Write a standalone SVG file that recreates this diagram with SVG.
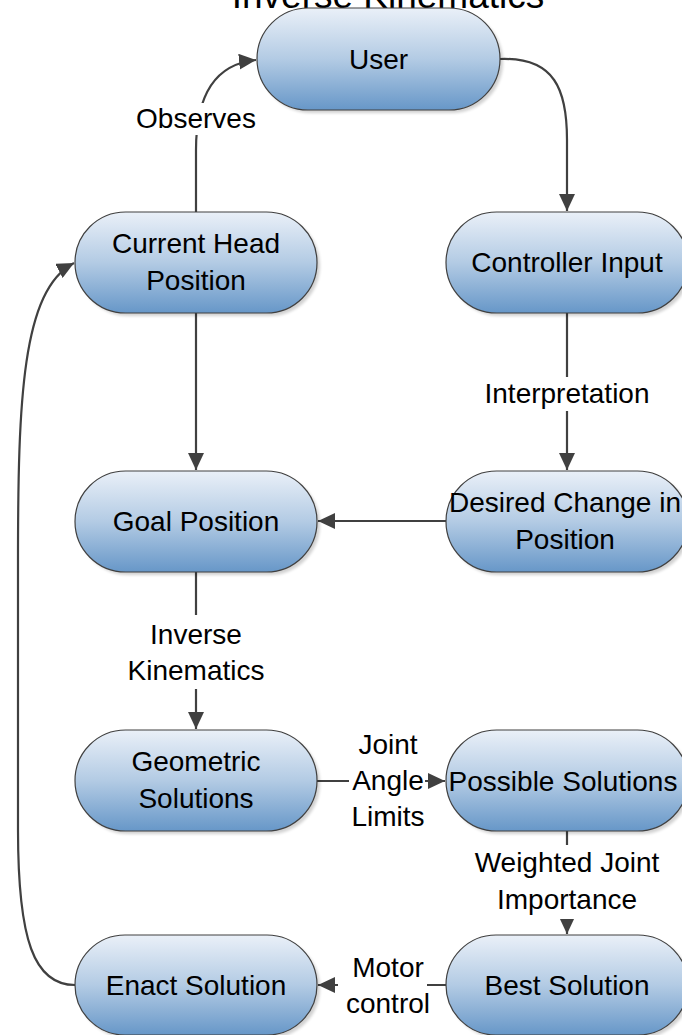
<svg xmlns="http://www.w3.org/2000/svg" width="682" height="1035" viewBox="0 0 682 1035">
<defs>
<linearGradient id="fill" x1="0" y1="0" x2="0" y2="1">
<stop offset="0" stop-color="#eaf0f8"/>
<stop offset="0.5" stop-color="#b3cbe4"/>
<stop offset="1" stop-color="#6797c8"/>
</linearGradient>
<marker id="arr" markerUnits="userSpaceOnUse" markerWidth="18" markerHeight="16" refX="17" refY="8" orient="auto">
<path d="M0,0 L17,8 L0,16 Z" fill="#404040"/>
</marker>
<filter id="sh" x="-10%" y="-10%" width="130%" height="140%">
<feGaussianBlur stdDeviation="1.5"/>
</filter>
</defs>
<style>
.shadow{fill:#000;opacity:0.18;filter:url(#sh)}
.node{fill:url(#fill);stroke:#404040;stroke-width:1.2}
.t{font-family:"Liberation Sans",Arial,sans-serif;font-size:28px;fill:#000;text-anchor:middle}
.title{font-family:"Liberation Sans",Arial,sans-serif;font-size:37px;fill:#000;text-anchor:middle}
.c{fill:none;stroke:#404040;stroke-width:2.2}
.bg{fill:#fff}
</style>
<rect width="682" height="1035" fill="#fff"/>
<text class="title" x="388" y="8">Inverse Kinematics</text>

<g id="connectors">
<path class="c" d="M196,212 L196,150 C196,95 215,64 256,60" marker-end="url(#arr)"/>
<path class="c" d="M500,59 C555,57 567,90 567,140 L567,211" marker-end="url(#arr)"/>
<path class="c" d="M196,313 L196,470" marker-end="url(#arr)"/>
<path class="c" d="M567,313 L567,470" marker-end="url(#arr)"/>
<path class="c" d="M446,521 L318,521" marker-end="url(#arr)"/>
<path class="c" d="M196,572 L196,729" marker-end="url(#arr)"/>
<path class="c" d="M317,781 L445,781" marker-end="url(#arr)"/>
<path class="c" d="M567,831 L567,934" marker-end="url(#arr)"/>
<path class="c" d="M446,985 L318,985" marker-end="url(#arr)"/>
<path class="c" d="M75,985 C34,985 18,940 18,830 L18,560 C18,400 22,290 74,263" marker-end="url(#arr)"/>
<rect class="bg" x="136" y="103" width="120" height="32"/>
<text class="t" x="196" y="128">Observes</text>
<rect class="bg" x="485" y="377" width="164" height="34"/>
<text class="t" x="567" y="403">Interpretation</text>
<rect class="bg" x="130" y="615" width="132" height="74"/>
<text class="t" x="196" y="644">Inverse</text>
<text class="t" x="196" y="680">Kinematics</text>
<rect class="bg" x="349" y="765" width="76" height="30"/>
<text class="t" x="388" y="754">Joint</text>
<text class="t" x="388" y="790">Angle</text>
<text class="t" x="388" y="826">Limits</text>
<rect class="bg" x="470" y="845" width="194" height="74"/>
<text class="t" x="567" y="872">Weighted Joint</text>
<text class="t" x="567" y="909">Importance</text>
<rect class="bg" x="338" y="979" width="89" height="12"/>
<text class="t" x="388" y="977">Motor</text>
<text class="t" x="388" y="1013">control</text>
</g>

<g id="user">
<rect class="shadow" x="260" y="11" width="243" height="102" rx="51"/>
<rect class="node" x="257" y="8" width="243" height="102" rx="51"/>
<text class="t" x="378.5" y="69">User</text>
</g>
<g id="current-head-position">
<rect class="shadow" x="78" y="215" width="242" height="101" rx="50.5"/>
<rect class="node" x="75" y="212" width="242" height="101" rx="50.5"/>
<text class="t" x="196" y="253">Current Head</text>
<text class="t" x="196" y="290">Position</text>
</g>
<g id="controller-input">
<rect class="shadow" x="449" y="215" width="242" height="101" rx="50.5"/>
<rect class="node" x="446" y="212" width="242" height="101" rx="50.5"/>
<text class="t" x="567" y="272">Controller Input</text>
</g>
<g id="goal-position">
<rect class="shadow" x="78" y="474" width="242" height="101" rx="50.5"/>
<rect class="node" x="75" y="471" width="242" height="101" rx="50.5"/>
<text class="t" x="196" y="531">Goal Position</text>
</g>
<g id="desired-change">
<rect class="shadow" x="449" y="474" width="242" height="101" rx="50.5"/>
<rect class="node" x="446" y="471" width="242" height="101" rx="50.5"/>
<text class="t" x="565" y="512">Desired Change in</text>
<text class="t" x="565" y="549">Position</text>
</g>
<g id="geometric-solutions">
<rect class="shadow" x="78" y="733" width="242" height="101" rx="50.5"/>
<rect class="node" x="75" y="730" width="242" height="101" rx="50.5"/>
<text class="t" x="196" y="771">Geometric</text>
<text class="t" x="196" y="808">Solutions</text>
</g>
<g id="possible-solutions">
<rect class="shadow" x="449" y="733" width="242" height="101" rx="50.5"/>
<rect class="node" x="446" y="730" width="242" height="101" rx="50.5"/>
<text class="t" x="563" y="791">Possible Solutions</text>
</g>
<g id="enact-solution">
<rect class="shadow" x="78" y="938" width="242" height="100" rx="50"/>
<rect class="node" x="75" y="935" width="242" height="100" rx="50"/>
<text class="t" x="196" y="995">Enact Solution</text>
</g>
<g id="best-solution">
<rect class="shadow" x="449" y="938" width="242" height="100" rx="50"/>
<rect class="node" x="446" y="935" width="242" height="100" rx="50"/>
<text class="t" x="567" y="995">Best Solution</text>
</g>
</svg>
